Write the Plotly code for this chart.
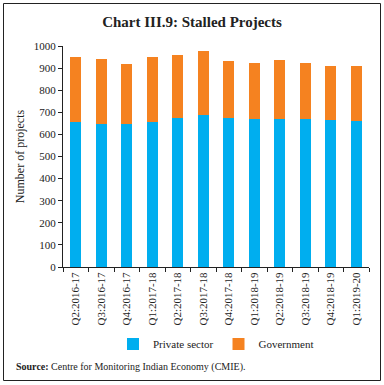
import plotly.graph_objects as go

categories = ["Q2:2016-17", "Q3:2016-17", "Q4:2016-17", "Q1:2017-18", "Q2:2017-18",
              "Q3:2017-18", "Q4:2017-18", "Q1:2018-19", "Q2:2018-19", "Q3:2018-19",
              "Q4:2018-19", "Q1:2019-20"]
private_sector = [658, 646, 646, 658, 676, 690, 676, 671, 671, 671, 667, 661]
totals = [950, 940, 918, 948, 958, 977, 932, 924, 938, 924, 910, 910]
government = [t - p for t, p in zip(totals, private_sector)]

W, H = 384, 385
L, R, T, B = 63, 15, 46, 118
pw, ph = W - L - R, H - T - B

def px(x):
    return (x - L) / pw

def py(y):
    return (H - B - y) / ph

font_family = "Liberation Serif, DejaVu Serif, serif"

fig = go.Figure()
fig.add_trace(go.Bar(x=categories, y=private_sector, name="Private sector",
                     marker=dict(color="#00AEEF", line=dict(width=0))))
fig.add_trace(go.Bar(x=categories, y=government, name="Government",
                     marker=dict(color="#F58220", line=dict(width=0))))

fig.update_layout(
    barmode="stack",
    bargap=0.58,
    width=W, height=H,
    margin=dict(l=L, r=R, t=T, b=B),
    paper_bgcolor="white",
    plot_bgcolor="white",
    font=dict(family=font_family, size=11, color="#222"),
    showlegend=True,
    legend=dict(orientation="h", x=0.5, xanchor="center", y=py(344), yanchor="middle",
                font=dict(size=11, color="#222"), itemwidth=30, traceorder="normal"),
    title=dict(text="<b>Chart III.9: Stalled Projects</b>", x=0.5, xanchor="center",
               y=1 - 22 / H, yanchor="middle", font=dict(size=15, color="#222", family=font_family)),
)
fig.update_yaxes(range=[0, 1000], dtick=100, showline=True, linecolor="#222", linewidth=1,
                 ticks="outside", ticklen=4, tickcolor="#222", showgrid=False, zeroline=False,
                 title=dict(text="Number of projects", font=dict(size=12), standoff=6),
                 tickfont=dict(size=11))
fig.update_xaxes(showline=True, linecolor="#222", linewidth=1, ticks="outside", ticklen=4,
                 tickcolor="#222", tickson="boundaries", tickangle=-90, showgrid=False,
                 tickfont=dict(size=11))

fig.add_annotation(xref="paper", yref="paper", x=px(14), y=py(367), xanchor="left", yanchor="middle",
                   showarrow=False, text="<b>Source:</b> Centre for Monitoring Indian Economy (CMIE).",
                   font=dict(size=10, color="#222"))
fig.add_shape(type="rect", xref="paper", yref="paper", x0=px(3.5), x1=px(380.5),
              y0=py(380.5), y1=py(3.5), line=dict(color="#222", width=1), fillcolor="rgba(0,0,0,0)")

fig.write_html("out.html", config={"displayModeBar": False},
               post_script="document.body.style.margin='0';document.body.style.padding='0';")
